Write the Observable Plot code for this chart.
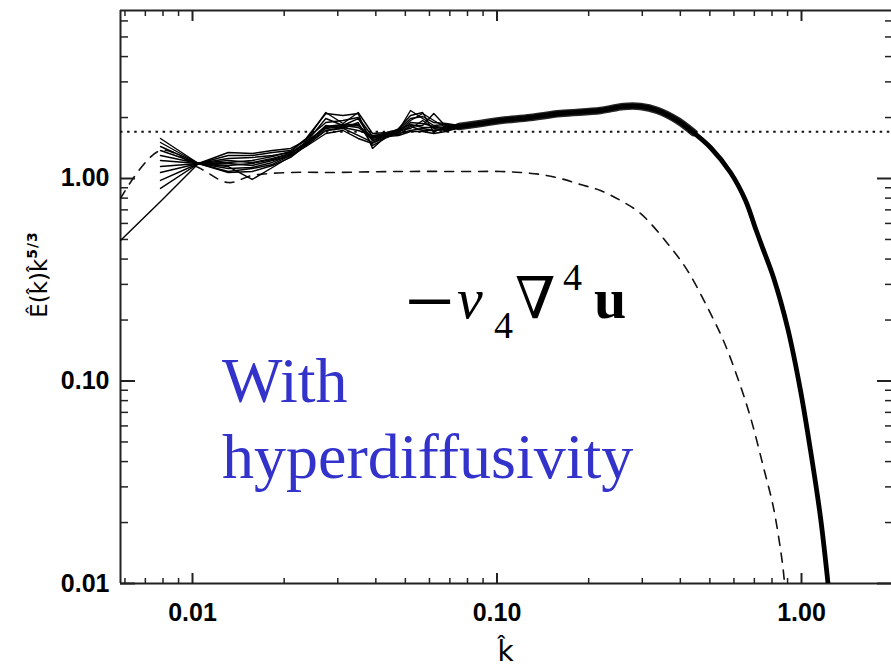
<!DOCTYPE html>
<html><head><meta charset="utf-8">
<script src="https://cdn.jsdelivr.net/npm/d3@7"></script>
<script src="https://cdn.jsdelivr.net/npm/@observablehq/plot@0.6"></script>
<style>html,body{margin:0;padding:0;background:#fff;} svg{display:block}</style>
</head><body><div id="chart"></div>
<script>
// ---- data ----
const kLow = [0.0058, 0.00785, 0.01046, 0.0131, 0.0157, 0.0183, 0.021, 0.0236, 0.0274, 0.0312, 0.035, 0.039, 0.0435, 0.0475, 0.052, 0.057, 0.062, 0.068, 0.075];
const snap0  = [0.494, 0.770, 1.186, 1.071, 1.083, 1.159, 1.270, 1.455, 1.726, 1.766, 1.631, 1.506, 1.631, 1.668, 1.726, 1.766, 1.726, 1.766, 1.786];
const snap1  = [null, 1.576, 1.186, 1.344, 1.329, 1.375, 1.407, 1.540, 2.118, 1.869, 2.118, 1.668, 1.687, 1.726, 2.167, 1.978, 1.827, 1.848, 1.806];
const snap2  = [null, 1.506, 1.186, 1.299, 1.299, 1.344, 1.375, 1.576, 2.094, 2.047, 2.094, 1.407, 1.631, 1.766, 2.047, 2.118, 1.687, 1.827, 1.827];
const snap3  = [null, 1.439, 1.186, 1.255, 1.270, 1.299, 1.344, 1.506, 1.978, 1.827, 1.978, 1.540, 1.668, 1.706, 1.934, 2.094, 1.934, 1.786, 1.848];
const snap4  = [null, 1.375, 1.186, 1.227, 1.200, 1.255, 1.329, 1.489, 1.827, 1.766, 1.890, 1.455, 1.594, 1.687, 1.827, 1.827, 2.094, 1.806, 1.806];
const snap5  = [null, 1.299, 1.186, 1.186, 1.159, 1.227, 1.299, 1.472, 1.766, 1.806, 1.827, 1.576, 1.649, 1.726, 1.766, 1.934, 1.766, 1.726, 1.786];
const snap6  = [null, 1.227, 1.186, 1.146, 0.989, 1.133, 1.284, 1.455, 1.726, 1.786, 1.726, 1.631, 1.668, 1.649, 1.806, 1.726, 1.726, 1.746, 1.766];
const snap7  = [null, 1.146, 1.186, 1.120, 1.133, 1.200, 1.314, 1.523, 1.786, 1.827, 1.786, 1.594, 1.687, 1.746, 1.848, 1.786, 1.786, 1.766, 1.806];
const snap8  = [null, 1.071, 1.186, 1.083, 1.120, 1.173, 1.299, 1.439, 1.668, 1.726, 1.576, 1.489, 1.612, 1.631, 1.706, 1.706, 1.668, 1.706, 1.786];
const snap9  = [null, 0.978, 1.186, 1.200, 1.227, 1.284, 1.359, 1.558, 1.890, 1.934, 2.001, 1.612, 1.649, 1.746, 1.978, 2.024, 1.890, 1.869, 1.827];
const snap10 = [null, 0.893, 1.186, 1.159, 1.186, 1.241, 1.329, 1.489, 1.806, 1.848, 1.848, 1.540, 1.631, 1.687, 1.890, 1.869, 1.806, 1.786, 1.806];

const kMain = [0.075, 0.0883, 0.1027, 0.1288, 0.1616, 0.2187, 0.2603, 0.2960, 0.3367, 0.3916, 0.4418, 0.5024, 0.5845, 0.6549, 0.7063, 0.7446, 0.8091, 0.8995, 0.9924, 1.0705, 1.1544, 1.222];
const vMain = [1.806, 1.869, 1.934, 2.001, 2.094, 2.167, 2.268, 2.268, 2.167, 1.934, 1.687, 1.423, 1.071, 0.779, 0.566, 0.456, 0.3245, 0.1837, 0.0898, 0.0454, 0.0212, 0.0100];

const kDash = [0.0058, 0.00785, 0.01046, 0.0131, 0.0157, 0.021, 0.0284, 0.0482, 0.0818, 0.1027, 0.1195, 0.139, 0.1616, 0.188, 0.2187, 0.2544, 0.296, 0.363, 0.4223, 0.4912, 0.554, 0.6163, 0.680, 0.7504, 0.809, 0.866, 0.8795];
const vDash = [0.797, 1.375, 1.133, 0.955, 1.035, 1.071, 1.071, 1.083, 1.083, 1.083, 1.071, 1.047, 1.000, 0.934, 0.872, 0.779, 0.672, 0.478, 0.351, 0.2307, 0.1585, 0.1041, 0.0661, 0.0374, 0.0237, 0.01256, 0.0100];

const kolmogorovLevel = 1.7;

const xMajor = [0.01, 0.1, 1];
const xTickLabels = ["0.01", "0.10", "1.00"];
const xMinor = [0.006, 0.007, 0.008, 0.009, 0.02, 0.03, 0.04, 0.05, 0.06, 0.07, 0.08, 0.09, 0.2, 0.3, 0.4, 0.5, 0.6, 0.7, 0.8, 0.9];
const yMajor = [0.01, 0.1, 1];
const yTickLabels = ["0.01", "0.10", "1.00"];
const yMinor = [0.02, 0.03, 0.04, 0.05, 0.06, 0.07, 0.08, 0.09, 0.2, 0.3, 0.4, 0.5, 0.6, 0.7, 0.8, 0.9, 2, 3, 4, 5, 6];

const xDomain = [0.005801, 1.975];
const yDomain = [0.01, 6.755];

const eqAnchor = {k: 0.0508, v: 0.2035};
const blueAnchor = {k: 0.01255, v: 0.0783};
const blueLines = ["With", "hyperdiffusivity"];

// ---- tables ----
const snapshots = [snap0, snap1, snap2, snap3, snap4, snap5, snap6, snap7, snap8, snap9, snap10];
const lowRows = snapshots.flatMap((vals, s) => vals.map((v, i) => ({k: kLow[i], v, s})).filter(d => d.v != null));
const mainRows = kMain.map((k, i) => ({k, v: vMain[i]}));
const dashRows = kDash.map((k, i) => ({k, v: vDash[i]}));

const labelFont = {fontSize: 25, fontWeight: "bold", fontFamily: "Liberation Sans, Arial, sans-serif"};
const axisStroke = "#222";

const plot = Plot.plot({
  width: 891,
  height: 671,
  marginLeft: 120,
  marginRight: 0,
  marginTop: 10,
  marginBottom: 88,
  style: {background: "white", color: "black"},
  x: {type: "log", domain: xDomain},
  y: {type: "log", domain: yDomain},
  marks: [
    // frame (left, top, bottom)
    Plot.ruleX([xDomain[0]], {stroke: axisStroke, strokeWidth: 2}),
    Plot.ruleY([yDomain[0]], {stroke: axisStroke, strokeWidth: 2.2}),
    Plot.ruleY([yDomain[1]], {stroke: axisStroke, strokeWidth: 2}),
    // inward ticks
    Plot.axisX({anchor: "bottom", ticks: xMajor, tickSize: -10, tickFormat: () => "", label: null, stroke: axisStroke, strokeWidth: 2}),
    Plot.axisX({anchor: "bottom", ticks: xMinor, tickSize: -5, tickFormat: () => "", label: null, stroke: axisStroke, strokeWidth: 1.5}),
    Plot.axisX({anchor: "top", ticks: xMajor, tickSize: -10, tickFormat: () => "", label: null, stroke: axisStroke, strokeWidth: 2}),
    Plot.axisX({anchor: "top", ticks: xMinor, tickSize: -5, tickFormat: () => "", label: null, stroke: axisStroke, strokeWidth: 1.5}),
    Plot.axisY({anchor: "left", ticks: yMajor, tickSize: -15, tickFormat: () => "", label: null, stroke: axisStroke, strokeWidth: 2}),
    Plot.axisY({anchor: "left", ticks: yMinor, tickSize: -8, tickFormat: () => "", label: null, stroke: axisStroke, strokeWidth: 1.5}),
    Plot.axisY({anchor: "right", ticks: yMajor, tickSize: -15, tickFormat: () => "", label: null, stroke: axisStroke, strokeWidth: 2}),
    Plot.axisY({anchor: "right", ticks: yMinor, tickSize: -7, tickFormat: () => "", label: null, stroke: axisStroke, strokeWidth: 1.5}),
    // tick labels
    Plot.axisX({anchor: "bottom", ticks: xMajor, tickSize: 0, tickPadding: 20, tickFormat: d => xTickLabels[xMajor.indexOf(d)], label: null, ...labelFont}),
    Plot.axisY({anchor: "left", ticks: yMajor, tickSize: 0, tickPadding: 11, tickFormat: d => yTickLabels[yMajor.indexOf(d)], label: null, ...labelFont}),
    // reference level
    Plot.ruleY([kolmogorovLevel], {stroke: "#111", strokeWidth: 2, strokeDasharray: "2.5,4.6"}),
    // dashed spectrum
    Plot.line(dashRows, {x: "k", y: "v", stroke: "#111", strokeWidth: 1.6, strokeDasharray: "9,8", curve: "catmull-rom", clip: true}),
    // snapshot lines
    Plot.line(lowRows, {x: "k", y: "v", z: "s", stroke: "#000", strokeWidth: 1.4, clip: true}),
    // main thick band
    Plot.line(mainRows.filter(d => d.k <= 0.45), {x: "k", y: "v", stroke: "#000", strokeWidth: 7.5, strokeOpacity: 0.85, curve: "catmull-rom", strokeLinecap: "round", clip: true}),
    Plot.line(mainRows, {x: "k", y: "v", stroke: "#000", strokeWidth: 4.8, strokeLinejoin: "round", strokeLinecap: "round", curve: "catmull-rom", clip: true})
  ]
});

document.getElementById("chart").appendChild(plot);

const X = plot.scale("x"), Y = plot.scale("y");
const svg = d3.select(plot);

// y axis label
const yl = svg.append("text")
  .attr("transform", `translate(47,${(Y.apply(yDomain[0]) + Y.apply(yDomain[1])) / 2 - 22}) rotate(-90)`)
  .attr("text-anchor", "middle")
  .attr("font-family", "DejaVu Sans, sans-serif")
  .attr("font-size", 23)
  .attr("fill", "#000");
yl.append("tspan").text("Ê(k\u0302)k\u0302");
yl.append("tspan").attr("dy", -10).attr("font-size", 14).attr("font-weight", "bold").attr("letter-spacing", 1).text("5/3");

// x axis label
svg.append("text")
  .attr("x", (X.apply(xDomain[0]) + X.apply(xDomain[1])) / 2)
  .attr("y", 661)
  .attr("text-anchor", "middle")
  .attr("font-family", "DejaVu Sans, sans-serif")
  .attr("font-size", 28)
  .attr("fill", "#000")
  .text("k\u0302");

// equation
const ax = X.apply(eqAnchor.k), ay = Y.apply(eqAnchor.v);
const eq = svg.append("text").attr("text-anchor", "start").attr("font-family", "Liberation Serif, DejaVu Serif, serif").attr("fill", "#000");
const parts = [
  {t: "\u2212", dx: -2, dy: 13, size: 88},
  {t: "\u03bd", dx: 50, dy: 0, size: 58, style: "italic"},
  {t: "4", dx: 87, dy: 20, size: 38},
  {t: "\u2207", dx: 108, dy: 0, size: 58},
  {t: "4", dx: 156, dy: -28, size: 38},
  {t: "u", dx: 187, dy: 0, size: 58, weight: "bold"}
];
parts.forEach(p => {
  eq.append("tspan").attr("x", ax + p.dx).attr("y", ay + p.dy).attr("font-size", p.size)
    .attr("font-style", p.style || "normal").attr("font-weight", p.weight || "normal").text(p.t);
});

// blue annotation
const bx = X.apply(blueAnchor.k), by = Y.apply(blueAnchor.v);
const bt = svg.append("text").attr("text-anchor", "start").attr("font-family", "Liberation Serif, Times New Roman, serif").attr("font-size", 64).attr("fill", "#3333cc");
blueLines.forEach((line, i) => bt.append("tspan").attr("x", bx).attr("y", by + i * 76).text(line));
</script>
</body></html>
